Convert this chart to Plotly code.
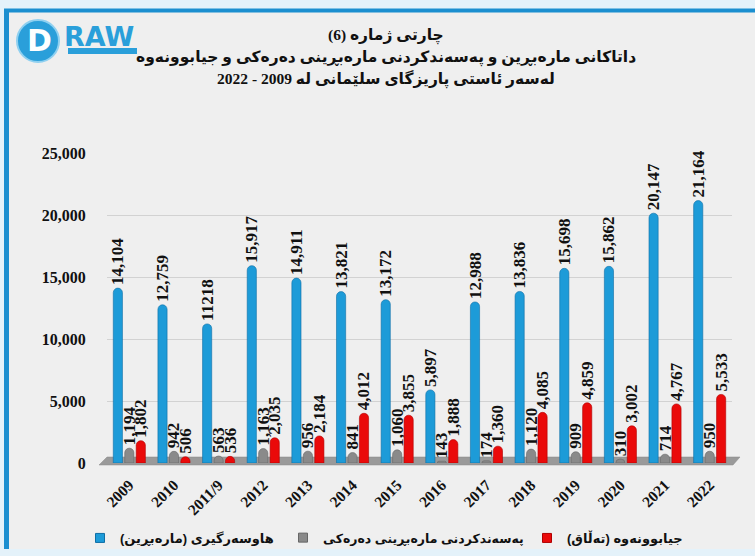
import plotly.graph_objects as go

years = ["2009", "2010", "2011/9", "2012", "2013", "2014", "2015", "2016",
         "2017", "2018", "2019", "2020", "2021", "2022"]

marriage = [14104, 12759, 11218, 15917, 14911, 13821, 13172, 5897,
            12988, 13836, 15698, 15862, 20147, 21164]
marriage_labels = ["14,104", "12,759", "11218", "15,917", "14,911", "13,821", "13,172",
                   "5,897", "12,988", "13,836", "15,698", "15,862", "20,147", "21,164"]

foreign = [1194, 942, 563, 1163, 956, 841, 1060, 143, 174, 1120, 909, 310, 714, 950]
foreign_labels = ["1,194", "942", "563", "1,163", "956", "841", "1,060", "143", "174",
                  "1,120", "909", "310", "714", "950"]

divorce = [1802, 506, 536, 2035, 2184, 4012, 3855, 1888, 1360, 4085, 4859, 3002, 4767, 5533]
divorce_labels = ["1,802", "506", "536", "2,035", "2,184", "4,012", "3,855", "1,888",
                  "1,360", "4,085", "4,859", "3,002", "4,767", "5,533"]

names = ["هاوسەرگیری (مارەبڕین)", "پەسەندکردنی مارەبڕینی دەرەکی", "جیابوونەوە (تەڵاق)"]
title_lines = ["چارتی ژمارە (6)",
               "داتاکانی مارەبڕین و پەسەندکردنی مارەبڕینی دەرەکی و جیابوونەوە",
               "لەسەر ئاستی پاریزگای سلێمانی لە 2009 - 2022"]
y_ticks = [0, 5000, 10000, 15000, 20000, 25000]

W, H = 755, 556
L, R, T, B = 107, 23, 153, 93
PW, PH = W - L - R, H - T - B


def px(x):
    return (x - L) / PW


def py(y):
    return (H - B - y) / PH


SERIF = "Liberation Serif"
TITLE_FONT = "Liberation Serif, DejaVu Sans"
label_font = dict(family=SERIF, size=17, color="#111111")

colors = ["#1d9bd8", "#8a8a8a", "#ea0a0a"]
edges = ["#0f6fa6", "#666666", "#b00000"]
legend_ids = ["legend", "legend2", "legend3"]
legend_x = [80, 283, 527]
legend_size = [13, 12.5, 13]

fig = go.Figure()
series = [(marriage, marriage_labels), (foreign, foreign_labels), (divorce, divorce_labels)]
for i, (vals, labs) in enumerate(series):
    fig.add_trace(go.Bar(
        x=years, y=vals, name=names[i], text=["<b>%s</b>" % t for t in labs],
        textposition="outside", textangle=-90, textfont=label_font,
        constraintext="none", cliponaxis=False, showlegend=False,
        marker=dict(color=colors[i], line=dict(color=edges[i], width=0.6), cornerradius="50%"),
    ))
for i in range(3):
    fig.add_trace(go.Scatter(
        x=[years[0]], y=[None], mode="markers", name=names[i], showlegend=True,
        legend=legend_ids[i],
        marker=dict(symbol="square", size=9, color=colors[i], line=dict(color=edges[i], width=1)),
    ))

shapes = [
    dict(type="rect", xref="paper", yref="paper", x0=px(5), x1=px(756), y0=py(549), y1=py(10),
         fillcolor="#efefef", line=dict(width=0), layer="below"),
    dict(type="line", xref="paper", yref="paper", x0=px(4), x1=px(756), y0=py(10.5), y1=py(10.5),
         line=dict(color="#1b8fd0", width=4), layer="above"),
    dict(type="line", xref="paper", yref="paper", x0=px(6.5), x1=px(6.5), y0=py(549), y1=py(9),
         line=dict(color="#1b8fd0", width=5), layer="above"),
    dict(type="path", xref="paper", yref="paper",
         path="M %f %f L %f %f L %f %f L %f %f Z" % (px(99), py(465), px(107), py(457),
                                                    px(740), py(457), px(733), py(465)),
         fillcolor="#9a9a9a", line=dict(color="#8a8a8a", width=0.5), layer="below"),
    dict(type="circle", xref="paper", yref="paper", x0=px(17), x1=px(59), y0=py(62), y1=py(20),
         fillcolor="#2a9fda", line=dict(color="#8fd0f0", width=2), layer="above"),
    dict(type="rect", xref="paper", yref="paper", x0=px(68), x1=px(137), y0=py(54), y1=py(48),
         fillcolor="#2a9fda", line=dict(width=0), layer="above"),
]

title_y = [35, 57, 79]
annotations = [
    dict(text="<b>%s</b>" % t, xref="paper", yref="paper",
         x=px(386), y=py(yy), xanchor="center", yanchor="middle", showarrow=False,
         font=dict(family=TITLE_FONT, size=15.5, color="#111111"), align="center")
    for t, yy in zip(title_lines, title_y)
] + [
    dict(text="<b>D</b>", xref="paper", yref="paper", x=px(39), y=py(41),
         xanchor="center", yanchor="middle", showarrow=False,
         font=dict(family="DejaVu Sans", size=30, color="white")),
    dict(text="<b>RAW</b>", xref="paper", yref="paper", x=px(99), y=py(37),
         xanchor="center", yanchor="middle", showarrow=False,
         font=dict(family="DejaVu Sans", size=27, color="#2a9fda")),
]

legends = {}
for lid, lx, ls in zip(legend_ids, legend_x, legend_size):
    legends[lid] = dict(orientation="h", x=px(lx), xanchor="left", y=py(538), yanchor="middle",
                        font=dict(family="Liberation Sans, DejaVu Sans", size=ls,
                                  color="#111111", weight="bold"),
                        bgcolor="rgba(0,0,0,0)")

fig.update_layout(
    width=W, height=H,
    margin=dict(l=L, r=R, t=T, b=B, autoexpand=False),
    paper_bgcolor="#e4f2fa", plot_bgcolor="rgba(0,0,0,0)",
    barmode="group", bargap=0.23, bargroupgap=0.2,
    shapes=shapes, annotations=annotations,
    showlegend=True,
    xaxis=dict(type="category", range=[-0.5, len(years) - 0.5], autorange=False,
               tickangle=-45, showgrid=False, zeroline=False,
               showline=False, ticks="outside", ticklen=6, tickcolor="rgba(0,0,0,0)",
               automargin=False,
               tickfont=dict(family=SERIF, size=15.5, color="#111111", weight="bold")),
    yaxis=dict(range=[0, 25000], tickvals=y_ticks, tickformat=",", showgrid=True,
               gridcolor="#d2d2d2", gridwidth=1, zeroline=False, showline=False,
               ticks="outside", ticklen=17, tickcolor="rgba(0,0,0,0)", automargin=False,
               tickfont=dict(family=SERIF, size=16, color="#111111", weight="bold")),
    **legends,
)

fig.write_html("out.html", config={"displayModeBar": False},
               post_script="document.body.style.margin='0';"
                           "document.body.style.background='#e4f2fa';")
